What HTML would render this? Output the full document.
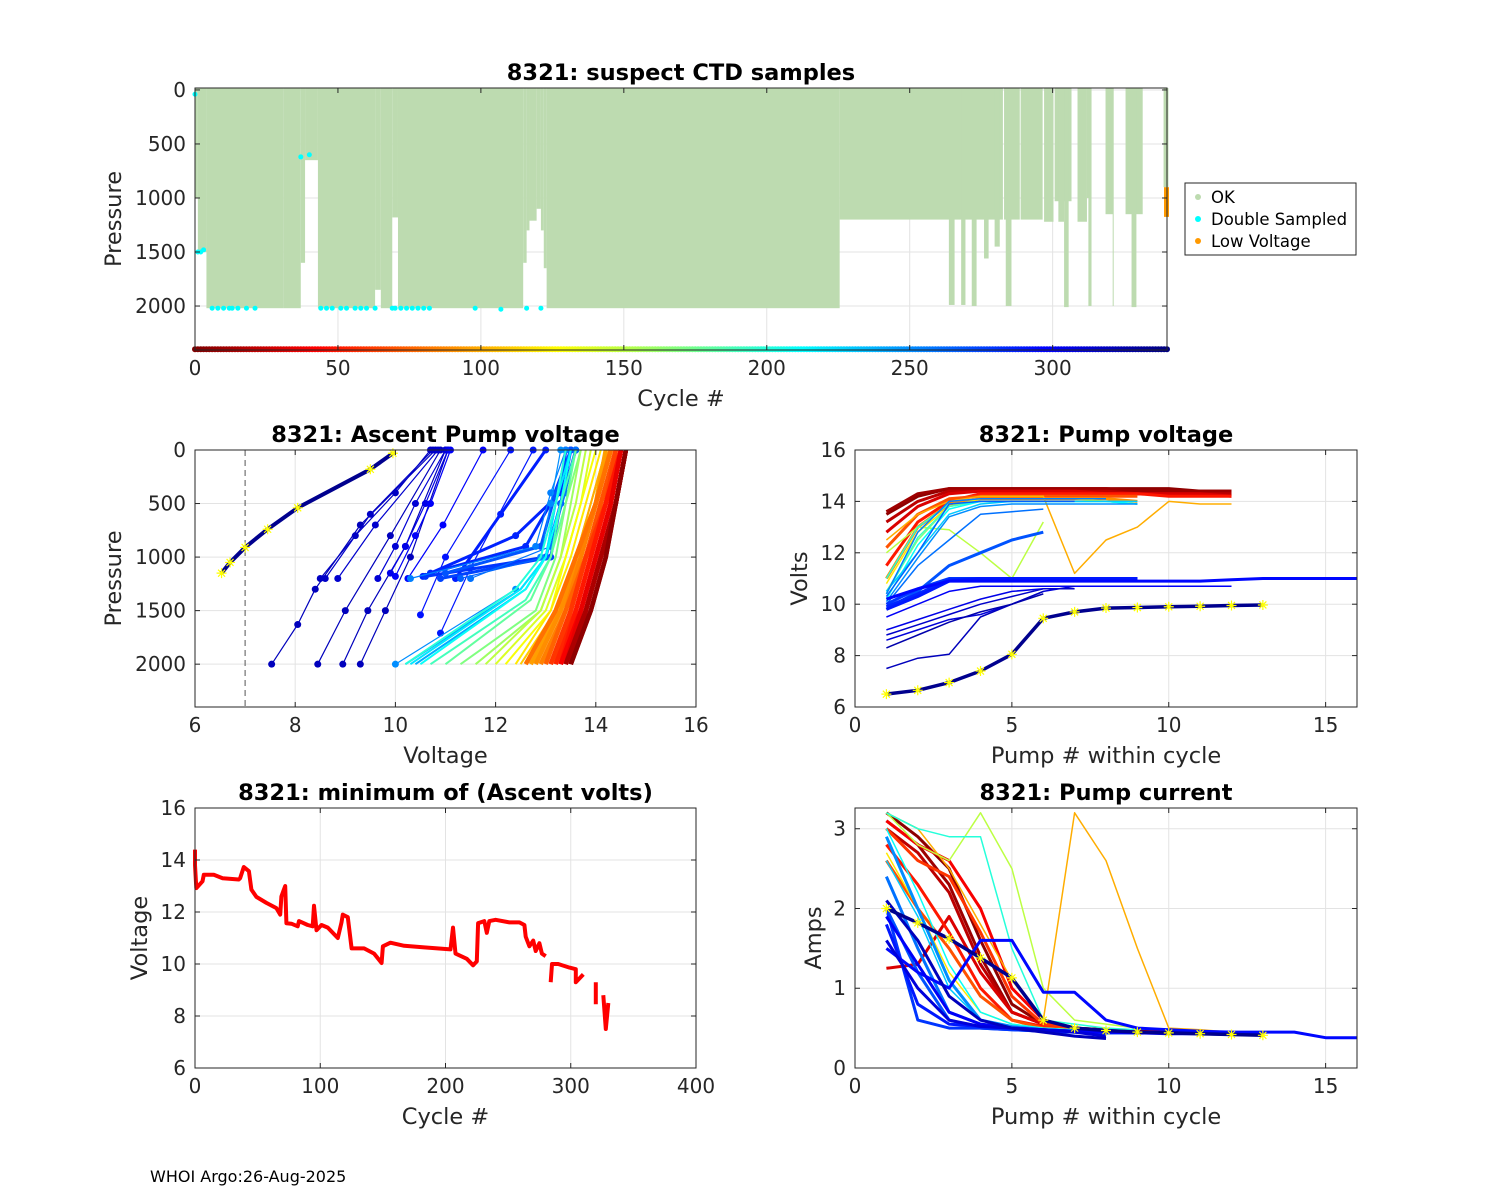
<!DOCTYPE html>
<html><head><meta charset="utf-8">
<style>
html,body{margin:0;padding:0;background:#fff;}
svg{display:block;font-family:"DejaVu Sans","Liberation Sans",sans-serif;}
</style></head>
<body>
<svg id="fig" width="1500" height="1200" viewBox="0 0 1500 1200" xmlns="http://www.w3.org/2000/svg">
<rect width="1500" height="1200" fill="#fff"/>
<text x="150" y="1182" font-size="16" fill="#000">WHOI Argo:26-Aug-2025</text>
</svg>
<script>
// ---------- DATA ----------
const segStart = [0,1,4,31,37,38.5,43,63,65,69,71,114.8,116,117,119.5,121,122,123,225.5,263.7,268,271.7,276,279.7,283,283.6,288.8,297,300.7,302,304,308.7,312,312.5,318.5,321,325.5,327.6,338.8];
const segEnd   = [1,4,31,37,38.5,43,63,65,69,71,114.8,116,117,119.5,121,122,123,225.5,282.6,265.7,269.5,273.4,277.6,281.5,288.5,285.6,296.5,300.3,306.6,304,305.6,312,313.6,313.6,321.3,321.3,331.5,329.3,340.5];
const segMax   = [1000,1500,2020,2020,1600,650,2020,1850,2020,1180,2020,1600,1300,1210,1100,1300,1650,2020,1200,1990,1990,2000,1560,1450,1200,2000,1200,1220,1030,1220,2010,1220,1000,2000,1150,2000,1150,2010,900];
const cyanCycles = [0,1,2,3,6,8,10,12,13,15,18,21,37,40,44,46,48,51,53,56,58,60,63,69,70,72,74,76,78,80,82,98,107,116,121];
const cyanPress  = [40,1500,1500,1480,2020,2020,2020,2020,2020,2020,2020,2020,620,600,2020,2020,2020,2020,2020,2020,2020,2020,2020,2020,2020,2020,2020,2020,2020,2020,2020,2020,2030,2020,2020];
const lowVoltCycle = [340];
const lowVoltFrom = [900];
const lowVoltTo = [1175];

// Ascent pump voltage profiles
const profCycles = [335,320,320,320,320,318,316,314,312,305,300,298,292,290,288,286,284,280,275,270,265,260,255,250,245,240,220,210,200,190,180,170,160,150,140,130,120,110,100,95,90,85,80,75,70,65,60,55,50,45,40,35,30,25,20,15,10,5];
const profVolts = [
 [6.53,6.7,7.0,7.45,8.05,9.5,9.95],
 [7.53,8.05,8.4,9.3,10.8],
 [8.45,9.0,9.9,10.9],
 [8.95,9.45,10.2,11.0],
 [9.3,9.8,10.3,11.05],
 [8.5,9.2,10.0,10.7],
 [8.6,9.5,10.75],
 [8.85,9.6,10.85],
 [9.65,10.0,10.4,11.0],
 [9.9,10.2,10.6,11.05],
 [10.0,10.4,10.7,11.1],
 [10.25,10.95,11.75],
 [10.5,11.0,12.3],
 [10.9,11.5,12.75],
 [11.2,12.1,13.0],
 [10.55,12.4,13.3,13.4],
 [10.7,12.6,13.1,13.5],
 [10.6,13.0,13.3,13.5],
 [10.9,13.1,13.3,13.6],
 [11.0,12.9,13.2,13.5],
 [11.3,13.0,13.3,13.6],
 [11.5,13.1,13.4,13.6],
 [10.3,12.8,13.1,13.4],
 [10.0,12.4,12.9,13.1,13.3],
 [10.2,12.5,13.0,13.2,13.4],
 [10.4,12.6,13.0,13.3,13.5],
 [10.3,12.5,13.0,13.2,13.5],
 [10.5,12.6,13.0,13.3,13.5],
 [10.2,12.4,12.9,13.2,13.4],
 [10.7,12.6,13.1,13.3,13.6],
 [11.0,12.7,13.1,13.4,13.6],
 [11.3,12.8,13.2,13.4,13.7],
 [11.6,12.9,13.3,13.5,13.7],
 [11.8,12.9,13.3,13.6,13.8],
 [12.0,13.0,13.4,13.7,13.9],
 [12.2,13.1,13.4,13.7,14.0],
 [12.4,13.1,13.5,13.8,14.1],
 [12.5,13.2,13.6,13.9,14.2],
 [12.6,13.2,13.6,13.9,14.2],
 [12.7,13.3,13.6,14.0,14.2],
 [12.8,13.3,13.7,14.0,14.3],
 [12.9,13.4,13.7,14.0,14.3],
 [12.6,13.2,13.6,14.0,14.3],
 [13.0,13.4,13.8,14.1,14.4],
 [13.1,13.5,13.8,14.1,14.4],
 [13.2,13.5,13.8,14.2,14.4],
 [13.1,13.5,13.8,14.2,14.5],
 [13.2,13.6,13.9,14.2,14.5],
 [13.3,13.6,13.9,14.2,14.5],
 [13.3,13.7,14.0,14.3,14.5],
 [13.3,13.7,14.0,14.3,14.5],
 [13.4,13.7,14.0,14.3,14.5],
 [13.4,13.8,14.1,14.4,14.6],
 [13.5,13.8,14.1,14.4,14.6],
 [13.5,13.8,14.1,14.4,14.6],
 [13.4,13.8,14.1,14.4,14.6],
 [13.5,13.9,14.2,14.4,14.6],
 [13.5,13.9,14.2,14.4,14.6]
];
const profPress = [
 [1150,1050,910,740,540,180,30],
 [2000,1630,1300,700,0],
 [2000,1500,800,0],
 [2000,1500,900,0],
 [2000,1500,1000,0],
 [1200,800,400,0],
 [1200,600,0],
 [1200,700,0],
 [1200,900,500,0],
 [1150,900,500,0],
 [1180,800,500,0],
 [1200,700,0],
 [1540,1000,0],
 [1710,1100,0],
 [1200,600,0],
 [1180,800,400,0],
 [1150,900,500,0],
 [1180,1000,500,0],
 [1200,1000,500,0],
 [1150,900,400,0],
 [1200,1000,500,0],
 [1200,900,400,0],
 [1200,900,400,0],
 [2000,1300,1000,500,0],
 [2000,1300,1000,500,0],
 [2000,1300,1000,500,0],
 [2000,1300,1000,500,0],
 [2000,1300,1000,500,0],
 [2000,1300,1000,500,0],
 [2000,1400,1000,500,0],
 [2000,1400,1000,500,0],
 [2000,1500,1000,500,0],
 [2000,1500,1000,500,0],
 [2000,1500,1000,500,0],
 [2000,1500,1000,500,0],
 [2000,1500,1000,500,0],
 [2000,1500,1000,500,0],
 [2000,1500,1000,500,0],
 [2000,1500,1000,500,0],
 [2000,1500,1000,500,0],
 [2000,1500,1000,500,0],
 [2000,1500,1000,500,0],
 [2000,1500,1000,500,0],
 [2000,1500,1000,500,0],
 [2000,1500,1000,500,0],
 [2000,1500,1000,500,0],
 [2000,1500,1000,500,0],
 [2000,1500,1000,500,0],
 [2000,1500,1000,500,0],
 [2000,1500,1000,500,0],
 [2000,1500,1000,500,0],
 [2000,1500,1000,500,0],
 [2000,1500,1000,500,0],
 [2000,1500,1000,500,0],
 [2000,1500,1000,500,0],
 [2000,1500,1000,500,0],
 [2000,1500,1000,500,0],
 [2000,1500,1000,500,0]
];

// Pump voltage vs pump number
const pvCycles = [5,10,20,30,50,70,90,100,120,150,170,190,200,210,230,250,255,260,265,270,280,285,290,295,300,305,310,315,320,325,335];
const pvVolts = [
 [13.5,14.2,14.5,14.5,14.5,14.5,14.5,14.5,14.5,14.5,14.4,14.4],
 [13.6,14.3,14.5,14.5,14.5,14.5,14.5,14.5,14.4,14.4,14.4,14.4],
 [13.2,14.0,14.4,14.4,14.4,14.4,14.4,14.4,14.3,14.3,14.3,14.3],
 [12.8,13.8,14.3,14.4,14.4,14.4,14.4,14.3,14.3,14.3,14.3,14.2],
 [11.5,13.2,14.0,14.3,14.3,14.3,14.3,14.3,14.3,14.2,14.2,14.2],
 [12.2,13.5,14.1,14.2,14.2,14.2,14.2,14.2,14.2],
 [11.0,13.0,13.9,14.1,14.1,14.1,14.1,14.1,14.0],
 [12.5,13.5,14.0,14.2,14.2,14.2,11.2,12.5,13.0,14.0,13.9,13.9],
 [10.8,12.8,13.8,14.1,14.1,14.1,14.1,14.0,14.0],
 [12.0,13.0,12.9,12.0,11.0,13.2],
 [10.5,12.5,13.8,14.0,14.0,14.0,14.0,14.0,14.0],
 [10.4,12.6,13.8,14.0,14.0,14.0,14.0,14.0,13.9],
 [11.0,13.0,13.9,14.0,14.0,14.0,14.0,14.0,13.9],
 [10.2,12.3,13.7,14.0,14.0,14.0,14.0,14.0,13.9],
 [10.5,12.0,13.5,13.9,14.0,14.0,14.0,14.0,14.0],
 [10.1,11.8,13.4,13.8,13.9,13.9,13.9,13.9,13.9],
 [10.4,12.8,14.0,14.1,14.1,14.1,14.1,14.1],
 [10.0,11.5,12.5,13.5,13.6,13.7],
 [10.3,12.0,13.9,14.0,14.0,14.0,14.0],
 [9.8,10.5,11.5,12.0,12.5,12.8],
 [10.0,10.6,11.0,11.0,11.0,11.0,11.0,11.0,11.0],
 [9.9,10.4,10.95,11.0,11.0,11.0,11.0,11.0,11.0],
 [9.8,10.3,10.9,11.0,11.0,11.0,11.0,11.0,11.0],
 [10.2,10.6,10.9,10.9,10.9,10.9,10.9,10.9,10.9,10.9,10.9,10.95,11.0,11.0,11.0,11.0],
 [9.5,10.0,10.5,10.7,10.7,10.7,10.7,10.7,10.7,10.7,10.7,10.7],
 [9.0,9.4,9.8,10.2,10.5,10.6],
 [8.6,9.0,9.4,9.6,10.0,10.5,10.7],
 [8.8,9.2,9.6,10.0,10.3,10.6,10.6],
 [7.5,7.9,8.05,9.5,10.0,10.5],
 [8.3,8.8,9.3,9.7,10.0,10.4],
 [6.5,6.65,6.95,7.4,8.05,9.45,9.7,9.85,9.87,9.9,9.92,9.95,9.97]
];

// Pump current vs pump number
const pcCycles = [5,10,20,30,40,50,60,70,100,120,150,200,210,230,250,260,270,280,290,295,300,310,320,335];
const pcAmps = [
 [3.2,2.9,2.5,1.6,0.8,0.55,0.5,0.48,0.46,0.45,0.44,0.44],
 [3.1,2.8,2.3,1.4,0.7,0.55,0.5,0.48,0.46,0.45,0.44,0.43],
 [3.0,2.7,2.2,1.3,0.7,0.55,0.5,0.47,0.45,0.45,0.44,0.43],
 [1.25,1.3,1.9,1.2,0.7,0.55,0.5,0.47,0.45,0.45,0.44],
 [3.1,2.8,2.6,2.0,1.0,0.6,0.5,0.47,0.45],
 [2.8,2.3,1.7,1.0,0.6,0.52,0.48,0.46,0.45],
 [3.0,2.6,2.4,1.7,0.9,0.55,0.5,0.47,0.45],
 [2.6,2.0,1.5,0.9,0.6,0.5,0.48,0.46,0.45],
 [3.2,3.0,2.5,1.8,1.1,0.6,3.2,2.6,1.5,0.5,0.48,0.45],
 [2.7,2.0,1.2,0.7,0.55,0.5,0.48,0.46,0.45],
 [3.2,2.8,2.6,3.2,2.5,1.0,0.6,0.55,0.5],
 [3.2,3.0,2.9,2.9,1.5,0.6,0.55,0.5,0.48],
 [3.0,2.2,1.3,0.7,0.55,0.5,0.48,0.46,0.45],
 [2.6,1.9,1.0,0.6,0.5,0.48,0.46,0.45,0.45],
 [2.9,2.0,1.1,0.6,0.52,0.48,0.46,0.45,0.44],
 [2.4,1.5,0.7,0.55,0.5,0.48,0.46,0.45],
 [2.0,1.2,0.6,0.5,0.48,0.46,0.45,0.44,0.44],
 [2.0,0.6,0.5,0.5,0.48,0.46,0.45,0.44,0.44],
 [1.8,0.8,0.55,0.52,0.5,0.48,0.46,0.45,0.45],
 [1.5,1.2,1.0,1.6,1.6,0.95,0.95,0.6,0.5,0.48,0.46,0.45,0.45,0.45,0.38,0.38],
 [1.9,1.3,0.7,0.55,0.5,0.48,0.46,0.45,0.44,0.43,0.43,0.42],
 [1.6,1.0,0.6,0.52,0.5,0.48,0.45,0.4],
 [2.1,1.6,0.9,0.6,0.5,0.45,0.4,0.37],
 [2.0,1.82,1.62,1.38,1.13,0.6,0.5,0.47,0.45,0.44,0.43,0.42,0.41]
];

// Minimum ascent volts vs cycle (null breaks line)
const minCycles = [0,0,1,6,7,15,22,35,36,39,43,45,49,57,65,68,69,72,73,77,82,83,90,94,95,97,101,106,114,117,118,122,125,135,143,149,150,156,167,183,204,206,208,217,222,225,226,231,233,235,240,251,259,263,264,267,270,272,275,277,280,281,284,285,290,299,304,304,310,311,320,320,321,326,328,330];
const minVolts  = [14.4,13.8,12.92,13.18,13.43,13.43,13.3,13.25,13.3,13.73,13.57,12.86,12.58,12.35,12.15,11.9,12.6,13.0,11.57,11.55,11.45,11.65,11.5,11.45,12.24,11.3,11.5,11.4,11.0,11.6,11.9,11.8,10.6,10.6,10.4,10.04,10.68,10.82,10.7,10.64,10.56,11.4,10.4,10.2,9.95,10.1,11.57,11.65,11.2,11.65,11.7,11.6,11.6,11.5,11.05,10.68,10.9,10.5,10.8,10.4,10.3,null,9.3,10.0,10.0,9.86,9.8,9.3,9.6,null,9.3,8.45,null,8.8,7.5,8.5];

// ---------- DRAWING ----------
const NS = "http://www.w3.org/2000/svg";
const svg = document.getElementById('fig');
function mk(tag, attrs, parent){ const e=document.createElementNS(NS,tag); for(const k in attrs) e.setAttribute(k,attrs[k]); (parent||svg).appendChild(e); return e; }
function jet(v){ v=Math.max(0,Math.min(1,v)); const c=x=>Math.round(255*Math.max(0,Math.min(1,1.5-Math.abs(x)))); return `rgb(${c(4*v-3)},${c(4*v-2)},${c(4*v-1)})`; }
function cyc(c){ return jet(1 - c/340); }
function lin(d0,d1,r0,r1){ return v=> r0 + (v-d0)*(r1-r0)/(d1-d0); }

function axes(name, x0,y0,w,h, xr,yr,xt,yt, rev, title, xl, yl, ylOff){
  const g = mk('g',{});  
  const sx = lin(xr[0],xr[1],x0,x0+w);
  const sy = rev ? lin(yr[0],yr[1],y0,y0+h) : lin(yr[0],yr[1],y0+h,y0);
  xt.forEach(t=>{ const X=sx(t); mk('line',{x1:X,x2:X,y1:y0,y2:y0+h,stroke:'#e3e3e3','stroke-width':1},g); });
  yt.forEach(t=>{ const Y=sy(t); mk('line',{x1:x0,x2:x0+w,y1:Y,y2:Y,stroke:'#e3e3e3','stroke-width':1},g); });
  const plot = mk('g',{},g);
  const over = mk('g',{},g);
  mk('rect',{x:x0,y:y0,width:w,height:h,fill:'none',stroke:'#262626','stroke-width':1},over);
  xt.forEach(t=>{ const X=sx(t);
    mk('line',{x1:X,x2:X,y1:y0+h,y2:y0+h-5,stroke:'#262626'},over); mk('line',{x1:X,x2:X,y1:y0,y2:y0+5,stroke:'#262626'},over);
    const tx=mk('text',{x:X,y:y0+h+25,'font-size':20,'text-anchor':'middle',fill:'#262626'},over); tx.textContent=t;
      });
  yt.forEach(t=>{ const Y=sy(t);
    mk('line',{x1:x0,x2:x0+5,y1:Y,y2:Y,stroke:'#262626'},over); mk('line',{x1:x0+w,x2:x0+w-5,y1:Y,y2:Y,stroke:'#262626'},over);
    const tx=mk('text',{x:x0-9,y:Y+7,'font-size':20,'text-anchor':'end',fill:'#262626'},over); tx.textContent=t;
      });
  const tt=mk('text',{x:x0+w/2,y:y0-8,'font-size':22.5,'font-weight':'bold','text-anchor':'middle',fill:'#000'},over); tt.textContent=title;
   
  const xlab=mk('text',{x:x0+w/2,y:y0+h+56,'font-size':22.5,'text-anchor':'middle',fill:'#262626'},over); xlab.textContent=xl;
   
  const ylab=mk('text',{x:0,y:0,'font-size':22.5,'text-anchor':'middle',fill:'#262626',transform:`translate(${x0-ylOff},${y0+h/2}) rotate(-90)`},over); ylab.textContent=yl;
   
  return {sx,sy,plot,x0,y0,w,h};
}
function poly(ax, xs, ys, color, sw, name, markers, mr){
  let d='', pen=false;
  for(let i=0;i<xs.length;i++){ if(ys[i]===null){pen=false;continue;} d+=(pen?'L':'M')+ax.sx(xs[i]).toFixed(1)+' '+ax.sy(ys[i]).toFixed(1)+' '; pen=true; }
  const p=mk('path',{d,fill:'none',stroke:color,'stroke-width':sw,'stroke-linejoin':'round'},ax.plot);
  
  
  if(markers){ for(let i=0;i<xs.length;i++){ if(ys[i]===null) continue;
    const c=mk('circle',{cx:ax.sx(xs[i]),cy:ax.sy(ys[i]),r:mr||3,fill:color},ax.plot);
      } }
}
function star(ax,x,y){
  const X=ax.sx(x),Y=ax.sy(y),r=5;
  const p=mk('path',{d:`M${X-r} ${Y}L${X+r} ${Y}M${X} ${Y-r}L${X} ${Y+r}M${X-r*0.7} ${Y-r*0.7}L${X+r*0.7} ${Y+r*0.7}M${X-r*0.7} ${Y+r*0.7}L${X+r*0.7} ${Y-r*0.7}`,stroke:'#ffff00','stroke-width':1.2},ax.plot);
   
}

// Top plot
const A1 = axes('suspect-ctd-chart',195,88,972,262,[0,340],[-18,2407],[0,50,100,150,200,250,300],[0,500,1000,1500,2000],true,'8321: suspect CTD samples','Cycle #','Pressure',74);
for(let i=0;i<segStart.length;i++){
  const r=mk('rect',{x:A1.sx(segStart[i]),y:A1.sy(-18),width:Math.max(1,A1.sx(segEnd[i])-A1.sx(segStart[i])),height:A1.sy(segMax[i])-A1.sy(-18),fill:'#bddbb0'},A1.plot);
   
}
for(let i=0;i<cyanCycles.length;i++){
  const c=mk('circle',{cx:A1.sx(cyanCycles[i]),cy:A1.sy(cyanPress[i]),r:2.5,fill:'#00ffff'},A1.plot);
   
}
for(let i=0;i<lowVoltCycle.length;i++){
  const r=mk('rect',{x:A1.sx(lowVoltCycle[i])-3,y:A1.sy(lowVoltFrom[i]),width:5,height:A1.sy(lowVoltTo[i])-A1.sy(lowVoltFrom[i]),fill:'#ff9900'},A1.plot);
   
}
for(let c=0;c<=340;c+=1){
  const d=mk('circle',{cx:A1.sx(c),cy:A1.sy(2400),r:3,fill:cyc(c)},A1.plot);
   
}
const lg=mk('g',{});  
mk('rect',{x:1185,y:183,width:171,height:72,fill:'#fff',stroke:'#262626'},lg);
[['OK','#bddbb0'],['Double Sampled','#00ffff'],['Low Voltage','#ff9900']].forEach((e,i)=>{
  const c=mk('circle',{cx:1198,cy:197+i*22,r:3,fill:e[1]},lg);  
  const t=mk('text',{x:1211,y:203+i*22,'font-size':16.5,fill:'#000'},lg); t.textContent=e[0];
   
});

// Middle-left ascent pump voltage
const A2 = axes('ascent-pump-voltage-chart',195,450,501,257,[6,16],[0,2400],[6,8,10,12,14,16],[0,500,1000,1500,2000],true,'8321: Ascent Pump voltage','Voltage','Pressure',74);
const dl=mk('line',{x1:A2.sx(7),x2:A2.sx(7),y1:450,y2:707,stroke:'#555','stroke-width':1,'stroke-dasharray':'6,4'},A2.plot);
 
for(let i=0;i<profCycles.length;i++){
  const c=profCycles[i];
  const thick = c<100 ? 4.5 : (c>=330 ? 4 : (c<250 ? 2 : (c>=270 && c<290 ? 3 : 1.2)));
  poly(A2, profVolts[i], profPress[i], cyc(c), thick, 'ascent-profile', c>=250 && c<330, 3.5);
  if(c>=330){ for(let k=0;k<profVolts[i].length;k++) star(A2,profVolts[i][k],profPress[i][k]); }
}

// Middle-right pump voltage
const A3 = axes('pump-voltage-chart',855,450,502,257,[0,16],[6,16],[0,5,10,15],[6,8,10,12,14,16],false,'8321: Pump voltage','Pump # within cycle','Volts',48);
for(let i=0;i<pvCycles.length;i++){
  const xs=pvVolts[i].map((_,k)=>k+1);
  const c=pvCycles[i];
  poly(A3, xs, pvVolts[i], cyc(c), c>=330?3.5:(c<100?3:(c>=270&&c<300?3:1.5)), 'pump-voltage-line', false);
  if(c>=330){ xs.forEach((x,k)=>star(A3,x,pvVolts[i][k])); }
}

// Bottom-left min volts
const A4 = axes('min-ascent-volts-chart',195,808,501,260,[0,400],[6,16],[0,100,200,300,400],[6,8,10,12,14,16],false,'8321: minimum of (Ascent volts)','Cycle #','Voltage',48);
poly(A4, minCycles, minVolts, '#ff0000', 4, 'min-volts-line', false);

// Bottom-right pump current
const A5 = axes('pump-current-chart',855,808,502,260,[0,16],[0,3.26],[0,5,10,15],[0,1,2,3],false,'8321: Pump current','Pump # within cycle','Amps',34);
for(let i=0;i<pcCycles.length;i++){
  const xs=pcAmps[i].map((_,k)=>k+1);
  const c=pcCycles[i];
  poly(A5, xs, pcAmps[i], cyc(c), c>=330?3.5:(c<100||c>=250?3:1.5), 'pump-current-line', false);
  if(c>=330){ xs.forEach((x,k)=>star(A5,x,pcAmps[i][k])); }
}
</script>
</body></html>
